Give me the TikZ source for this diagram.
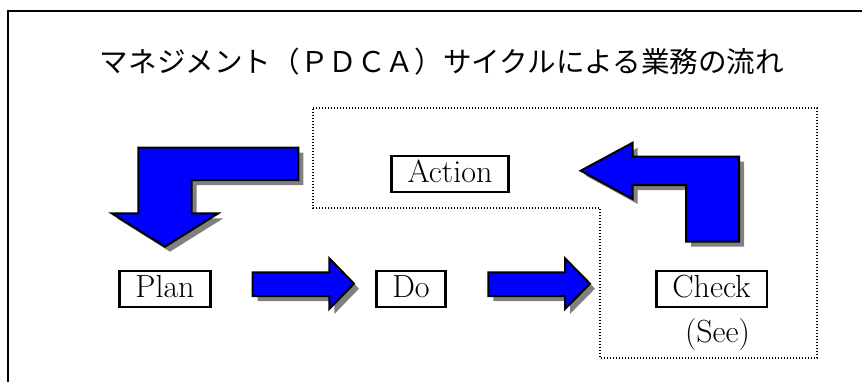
\documentclass[tikz,border=0pt]{standalone}
\usepackage{fontspec}
\newfontfamily\jpfont{Noto Sans CJK JP}
\usetikzlibrary{shadows}
\definecolor{arrowblue}{RGB}{0,0,255}
\definecolor{shadowgray}{RGB}{128,128,128}
\tikzset{
  stagebox/.style={draw, line width=2.4pt, fill=white, inner xsep=16pt, inner ysep=1pt,
    text height=25pt, text depth=9pt, font=\fontsize{32}{36}\selectfont},
  blockarrow/.style={fill=arrowblue, draw=black, line width=2pt, line join=miter,
    drop shadow={shadow xshift=5pt, shadow yshift=-5pt, fill=shadowgray, opacity=1, draw=none}},
  region/.style={draw=black, line width=1.3pt, dash pattern=on 1.2pt off 1.8pt},
  frame/.style={draw=black, line width=2.8pt}
}
\begin{document}
\begin{tikzpicture}[x=1pt,y=-1pt]
\useasboundingbox (0,0) rectangle (862,381);
\begin{scope}
  \clip (0,0) rectangle (862,381);
  % outer frame (runs past the right and bottom edges)
  \draw[frame] (8,400) -- (8,11) -- (880,11);
\end{scope}

% title
\node (title) at (442,62) {\jpfont\fontsize{28.6}{32}\selectfont マネジメント（ＰＤＣＡ）サイクルによる業務の流れ};

% dotted region around Action and Check
\draw[region] (313,108) -- (817,108) -- (817,358) -- (600,358) -- (600,208) -- (313,208) -- cycle;

% bent arrow: Action -> Plan
\draw[blockarrow] (298.3,147.7) -- (298.3,180) -- (191.7,180) -- (191.7,213.3) -- (218.3,213.3)
  -- (165,246.7) -- (111.7,213.3) -- (138.3,213.3) -- (138.3,147.7) -- cycle;

% straight arrow: Plan -> Do
\draw[blockarrow] (252.7,272.3) -- (329.3,272.3) -- (329.3,258.3) -- (354,283.7)
  -- (329.3,309) -- (329.3,296) -- (252.7,296) -- cycle;

% straight arrow: Do -> Check
\draw[blockarrow] (488.3,272.3) -- (565,272.3) -- (565,258.3) -- (590,283.7)
  -- (565,309) -- (565,296) -- (488.3,296) -- cycle;

% bent arrow: Check -> Action
\draw[blockarrow] (580.7,170.7) -- (632.7,142.7) -- (632.7,156.7) -- (739,156.7) -- (739,241.7)
  -- (686,241.7) -- (686,185) -- (632.7,185) -- (632.7,199) -- cycle;

% stages
\node[stagebox] (action) at (450,174) {Action};
\node[stagebox] (plan) at (165,289) {Plan};
\node[stagebox] (do) at (411,289) {Do};
\node[stagebox] (check) at (711.5,289) {Check};
\node[font=\fontsize{32}{36}\selectfont, inner sep=0pt] (see) at (717.5,335) {(See)};
\end{tikzpicture}
\end{document}
